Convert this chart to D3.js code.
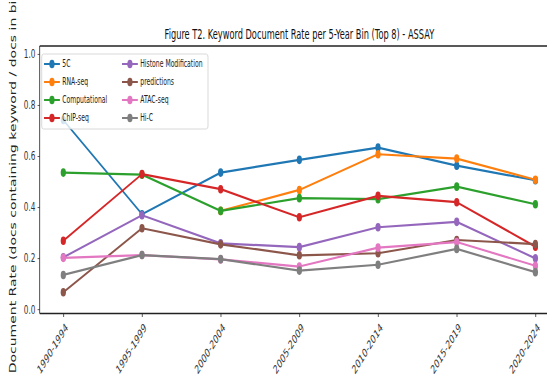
<!DOCTYPE html>
<html>
<head>
<meta charset="utf-8">
<script src="https://cdn.jsdelivr.net/npm/d3@7"></script>
<style>
  html, body { margin: 0; padding: 0; background: #fff; }
  svg { display: block; }
  text { font-family: "DejaVu Sans", sans-serif; }
</style>
</head>
<body>
<svg id="chart" width="547" height="380"></svg>
<script>
// Five-year bins along the x axis
const bins = ["1990-1994", "1995-1999", "2000-2004", "2005-2009", "2010-2014", "2015-2019", "2020-2024"];

// Share of documents mentioning each keyword, per bin (null = no documents)
const rate5C            = [0.741, 0.372, 0.535, 0.585, 0.633, 0.562, 0.505];
const rateRNAseq        = [null,  null,  0.385, 0.467, 0.607, 0.590, 0.507];
const rateComputational = [0.535, 0.527, 0.385, 0.435, 0.431, 0.480, 0.411];
const rateChIPseq       = [0.268, 0.529, 0.470, 0.360, 0.444, 0.419, 0.245];
const rateHistone       = [0.203, 0.368, 0.258, 0.243, 0.321, 0.342, 0.199];
const ratePredictions   = [0.066, 0.317, 0.254, 0.211, 0.219, 0.271, 0.255];
const rateATACseq       = [0.201, 0.212, 0.195, 0.167, 0.241, 0.263, 0.170];
const rateHiC           = [0.134, 0.212, 0.196, 0.151, 0.174, 0.236, 0.145];

const seriesNames  = ["5C", "RNA-seq", "Computational", "ChIP-seq", "Histone Modification", "predictions", "ATAC-seq", "Hi-C"];
const seriesValues = [rate5C, rateRNAseq, rateComputational, rateChIPseq, rateHistone, ratePredictions, rateATACseq, rateHiC];
const seriesColors = ["#1f77b4", "#ff7f0e", "#2ca02c", "#d62728", "#9467bd", "#8c564b", "#e377c2", "#7f7f7f"];

const yTicks = [0.0, 0.2, 0.4, 0.6, 0.8, 1.0];

const titleText  = "Figure T2. Keyword Document Rate per 5-Year Bin (Top 8) - ASSAY";
const yLabelText = "Document Rate (docs containing keyword / docs in bin)";

// The figure is laid out in a wide frame and then compressed horizontally.
const squeeze = 0.61;
const svg = d3.select("#chart");
const root = svg.append("g").attr("transform", `scale(${squeeze},1)`);

const plot = { left: 65.1, right: 916.4, top: 46, bottom: 313.5 };

const x = d3.scalePoint()
  .domain(bins)
  .range([plot.left, plot.right])
  .padding(0.3);

const y = d3.scaleLinear()
  .domain([-0.017, 1.031])
  .range([plot.bottom, plot.top]);

// Y axis
const yAxis = root.append("g")
  .attr("transform", `translate(${plot.left},0)`)
  .call(d3.axisLeft(y).tickValues(yTicks).tickFormat(d3.format(".1f")).tickSize(3.5).tickPadding(3.5));
yAxis.select(".domain").remove();
yAxis.selectAll(".tick line").attr("stroke", "#333").attr("stroke-width", 1);
yAxis.selectAll(".tick text").attr("fill", "#333").style("font-size", "12px").style("font-family", "DejaVu Sans");

// X axis with slanted bin labels
const xAxis = root.append("g")
  .attr("transform", `translate(0,${plot.bottom})`)
  .call(d3.axisBottom(x).tickSize(3.5).tickFormat(() => ""));
xAxis.select(".domain").remove();
xAxis.selectAll(".tick line").attr("stroke", "#333").attr("stroke-width", 1);
xAxis.selectAll(".tick")
  .append("text")
  .attr("fill", "#333")
  .attr("text-anchor", "end")
  .style("font-size", "12px")
  .style("font-family", "DejaVu Sans")
  .attr("transform", "translate(5,12) rotate(-45)")
  .attr("dy", "0.35em")
  .text(d => d);

// Frame of the plotting area
const frame = root.append("g").attr("fill", "none").attr("stroke", "#222");
frame.append("line").attr("x1", plot.left).attr("x2", plot.left).attr("y1", plot.top).attr("y2", plot.bottom).attr("stroke-width", 1.3);
frame.append("line").attr("x1", plot.left).attr("x2", plot.right).attr("y1", plot.bottom).attr("y2", plot.bottom).attr("stroke-width", 1.3);
frame.append("line").attr("x1", plot.left).attr("x2", plot.right).attr("y1", plot.top).attr("y2", plot.top).attr("stroke-width", 1.6);
frame.append("line").attr("x1", plot.right).attr("x2", plot.right).attr("y1", plot.top).attr("y2", plot.bottom).attr("stroke-width", 1.3);

// Lines and markers, one series after another
const line = d3.line()
  .defined(d => d.v !== null)
  .x(d => x(d.bin))
  .y(d => y(d.v));

seriesNames.forEach((name, i) => {
  const pts = bins.map((b, j) => ({ bin: b, v: seriesValues[i][j] }));
  const g = root.append("g").attr("class", "series");
  g.append("path")
    .datum(pts)
    .attr("fill", "none")
    .attr("stroke", seriesColors[i])
    .attr("stroke-width", 2.2)
    .attr("stroke-linejoin", "round")
    .attr("d", line);
  g.selectAll("circle")
    .data(pts.filter(d => d.v !== null))
    .join("circle")
    .attr("cx", d => x(d.bin))
    .attr("cy", d => y(d.v))
    .attr("r", 4.3)
    .attr("fill", seriesColors[i]);
});

// Legend: two columns of four entries
const legend = root.append("g");
legend.append("rect")
  .attr("x", 68.4).attr("y", 54)
  .attr("width", 272.6).attr("height", 75)
  .attr("rx", 3).attr("ry", 3)
  .attr("fill", "#fff").attr("fill-opacity", 0.8)
  .attr("stroke", "#d0d0d0").attr("stroke-width", 1);

const colX = [85.2, 213];
const rowY = [64, 82, 100, 118];
seriesNames.forEach((name, i) => {
  const cx = colX[Math.floor(i / 4)];
  const cy = rowY[i % 4];
  const e = legend.append("g");
  e.append("line")
    .attr("x1", cx - 13).attr("x2", cx + 13)
    .attr("y1", cy).attr("y2", cy)
    .attr("stroke", seriesColors[i]).attr("stroke-width", 2);
  e.append("circle").attr("cx", cx).attr("cy", cy).attr("r", 4.3).attr("fill", seriesColors[i]);
  e.append("text")
    .attr("x", cx + 17).attr("y", cy)
    .attr("dy", "0.35em")
    .attr("fill", "#222")
    .style("font-size", "10px")
    .text(name);
});

// Title
root.append("text")
  .attr("x", (plot.left + plot.right) / 2)
  .attr("y", 39)
  .attr("text-anchor", "middle")
  .attr("fill", "#111")
  .style("font-size", "13.5px")
  .text(titleText);

// Y axis label
root.append("text")
  .attr("transform", `translate(27,${(plot.top + plot.bottom) / 2}) rotate(-90)`)
  .attr("text-anchor", "middle")
  .attr("fill", "#222")
  .style("font-size", "14px")
  .text(yLabelText);
</script>
</body>
</html>
